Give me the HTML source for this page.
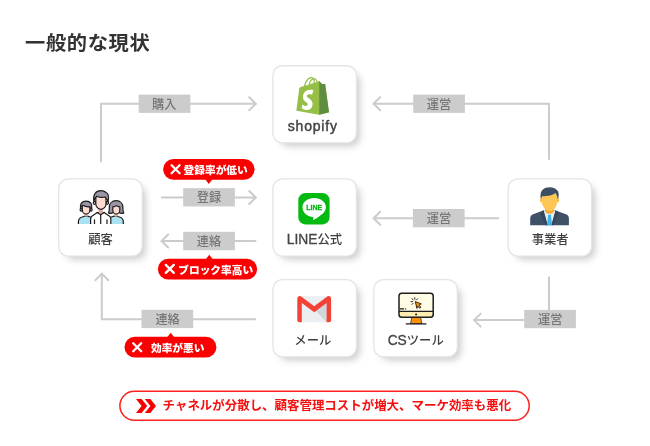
<!DOCTYPE html>
<html lang="ja">
<head>
<meta charset="utf-8">
<title>一般的な現状</title>
<style>
*{margin:0;padding:0;box-sizing:border-box}
html,body{width:650px;height:446px;background:#fff;overflow:hidden}
body{position:relative;font-family:"Liberation Sans","Noto Sans CJK JP",sans-serif;color:#444}
#stage{position:absolute;left:0;top:0;width:650px;height:446px;will-change:transform}
h1{position:absolute;left:25.2px;top:27.8px;font-size:20px;letter-spacing:.6px;line-height:30px;font-weight:700;color:#333;white-space:nowrap;transform:scale(1.014,.975);transform-origin:0 50%}
.lbl{position:absolute;width:100%;left:0;text-align:center;font-size:12.3px;line-height:16px;font-weight:500;color:#3e3e3e;white-space:nowrap}
.lbl .en{font-size:13.8px;font-weight:400;-webkit-text-stroke:.3px #444;color:#444}
.tag{position:absolute;width:52px;height:18.6px;color:#767676;font-size:12.2px;line-height:21.2px;text-align:center;font-weight:500;white-space:nowrap;overflow:hidden}
.bad{position:absolute;height:20.5px;color:#fff;font-weight:900;font-size:10.7px;line-height:22.3px;white-space:nowrap}
.bad span{position:absolute;top:0}
.bad svg{position:absolute;top:5px}
.ban{position:absolute;left:120px;top:391.3px;width:409px;height:29px}
.ban p{position:absolute;left:42.6px;top:1px;line-height:28px;font-size:12.46px;font-weight:700;color:#f51010;white-space:nowrap}
svg{position:absolute;left:0;top:0;overflow:visible}
</style>
</head>
<body>
<div id="stage">
<h1>一般的な現状</h1>

<!-- connectors -->
<svg width="650" height="446" viewBox="0 0 650 446" fill="none" stroke="#ccc" stroke-width="2" stroke-linecap="round" stroke-linejoin="round">
  <path d="M101 161.500V103.700H255.800"/><path d="M249.200 97.200l6.600 6.500-6.600 6.500"/>
  <path d="M549 159V103.700H373.600"/><path d="M380.200 97.200l-6.600 6.500 6.600 6.500"/>
  <path d="M161.800 197.500H255.800"/><path d="M249.200 191l6.600 6.500-6.600 6.500"/>
  <path d="M255.500 241H161.600"/><path d="M168.200 234.500l-6.600 6.500 6.600 6.500"/>
  <path d="M498.300 218.200H373.600"/><path d="M380.200 211.700l-6.600 6.500 6.600 6.500"/>
  <path d="M255.300 319.200H101.800V273.600"/><path d="M95.300 280.200l6.500-6.600 6.500 6.600"/>
  <path d="M549 277.300V320.100H474.100"/><path d="M480.700 313.600l-6.600 6.500 6.600 6.500"/>
</svg>

<svg width="650" height="446" viewBox="0 0 650 446">
  <rect x="138.7" y="94.6" width="51.7" height="18.3" fill="#ccc"/>
  <rect x="413.2" y="94.6" width="51.7" height="18.3" fill="#ccc"/>
  <rect x="183.2" y="188.15" width="51.7" height="18.3" fill="#ccc"/>
  <rect x="183.2" y="231.8" width="51.7" height="18.45" fill="#ccc"/>
  <rect x="412.9" y="209.0" width="51.7" height="18.3" fill="#ccc"/>
  <rect x="141.5" y="309.8" width="51.7" height="18.3" fill="#ccc"/>
  <rect x="524.2" y="309.9" width="51.7" height="18.3" fill="#ccc"/>
  <rect x="163.1" y="158.9" width="91.5" height="20.9" rx="10.45" fill="#fb0000"/>
  <rect x="157.9" y="258.8" width="99.2" height="20.7" rx="10.35" fill="#fb0000"/>
  <rect x="124.5" y="336.8" width="91.9" height="20.7" rx="10.35" fill="#fb0000"/>
</svg>
<div class="tag" style="left:138.5px;top:94.5px;width:51.5px">購入</div>
<div class="tag" style="left:413px;top:94.7px">運営</div>
<div class="tag" style="left:183px;top:188.4px">登録</div>
<div class="tag" style="left:183px;top:232.1px">連絡</div>
<div class="tag" style="left:413px;top:209.2px">運営</div>
<div class="tag" style="left:141.6px;top:310px">連絡</div>
<div class="tag" style="left:524.2px;top:309.8px">運営</div>

<!-- cards -->
<svg width="650" height="446" viewBox="0 0 650 446">
  <defs><filter id="sh" x="-40%" y="-40%" width="180%" height="180%"><feGaussianBlur stdDeviation="3.5"/></filter></defs>
  <rect x="279.40" y="72.27" width="80.55" height="74.10" rx="9.6" fill="#000" fill-opacity=".2" filter="url(#sh)"/>
  <rect x="279.40" y="185.45" width="80.55" height="74.10" rx="9.6" fill="#000" fill-opacity=".2" filter="url(#sh)"/>
  <rect x="279.40" y="286.20" width="80.55" height="74.10" rx="9.6" fill="#000" fill-opacity=".2" filter="url(#sh)"/>
  <rect x="380.30" y="286.20" width="80.55" height="74.10" rx="9.6" fill="#000" fill-opacity=".2" filter="url(#sh)"/>
  <rect x="65.16" y="185.45" width="80.55" height="74.10" rx="9.6" fill="#000" fill-opacity=".2" filter="url(#sh)"/>
  <rect x="514.65" y="185.45" width="80.55" height="74.10" rx="9.6" fill="#000" fill-opacity=".2" filter="url(#sh)"/>
  <rect x="272.90" y="65.77" width="83.55" height="77.10" rx="9.6" fill="#fff" stroke="#e4e4e4" stroke-width="1.3"/>
  <rect x="272.90" y="178.95" width="83.55" height="77.10" rx="9.6" fill="#fff" stroke="#e4e4e4" stroke-width="1.3"/>
  <rect x="272.90" y="279.70" width="83.55" height="77.10" rx="9.6" fill="#fff" stroke="#e4e4e4" stroke-width="1.3"/>
  <rect x="373.80" y="279.70" width="83.55" height="77.10" rx="9.6" fill="#fff" stroke="#e4e4e4" stroke-width="1.3"/>
  <rect x="58.66" y="178.95" width="83.55" height="77.10" rx="9.6" fill="#fff" stroke="#e4e4e4" stroke-width="1.3"/>
  <rect x="508.15" y="178.95" width="83.55" height="77.10" rx="9.6" fill="#fff" stroke="#e4e4e4" stroke-width="1.3"/>
</svg>

<div class="lbl" style="left:270.4px;width:84px;top:118px"><span class="en" style="letter-spacing:.8px;font-size:14px;margin-right:-.8px;-webkit-text-stroke-width:.45px">shopify</span></div>
<div class="lbl" style="left:272.5px;width:84px;top:231.5px"><span class="en">LINE</span>公式</div>
<div class="lbl" style="left:270.8px;width:84px;top:332.5px">メール</div>
<div class="lbl" style="left:373.7px;width:84px;top:332.5px"><span class="en">CS</span>ツール</div>
<div class="lbl" style="left:58.6px;width:84px;top:231.8px">顧客</div>
<div class="lbl" style="left:508.1px;width:84px;top:231.5px">事業者</div>


<!-- icons -->
<svg id="icons" width="650" height="446" viewBox="0 0 650 446">
  <!-- shopify bag -->
  <g transform="translate(296.6 77) scale(.298 .305)">
    <path fill="#95bf47" d="M95.900 23.900c-.1-.6-.6-1-1.100-1-.5 0-9.300-.2-9.300-.2s-7.800-7.500-8.500-8.300c-.7-.7-2.300-.5-2.800-.3 0 0-1.500.4-3.900 1.200-.4-1.300-1-2.900-1.800-4.500-2.600-5-6.500-7.700-11.100-7.700-.3 0-.6 0-1 .1-.1-.2-.3-.3-.4-.5C54 .5 51.400-.3 48.300-.2c-6 .2-12 4.500-16.800 12.200-3.400 5.400-6 12.200-6.800 17.500-6.900 2.100-11.700 3.600-11.800 3.700-3.500 1.100-3.600 1.200-4 4.500-.3 2.500-9.500 73-9.500 73l76.400 13.200 33.100-8.200c-.1-.1-12.900-91.200-13-91.800zM67.200 16.800c-1.800.5-3.800 1.200-5.900 1.800 0-3-.4-7.300-1.800-10.900 4.500.9 6.700 6 7.700 9.100zm-10 3.100c-4 1.200-8.400 2.600-12.800 3.900 1.200-4.700 3.600-9.400 6.400-12.500 1.100-1.100 2.600-2.400 4.300-3.200 1.800 3.500 2.200 8.400 2.100 11.800zM49.100 4c1.400 0 2.600.3 3.600.9-1.600.8-3.200 2.100-4.700 3.600-3.800 4.100-6.700 10.500-7.900 16.600-3.600 1.100-7.200 2.200-10.500 3.200C31.700 18.800 39.800 4.300 49.100 4z"/>
    <path fill="#5e8e3e" d="M94.800 22.900c-.5 0-9.300-.2-9.300-.2s-7.800-7.500-8.500-8.300c-.3-.3-.7-.4-1-.5V124l33.100-8.200S96 24.500 95.900 23.900c-.1-.6-.6-1-1.100-1z"/>
    <path fill="#fff" transform="translate(-4.2 1.5) scale(1.04)" d="M58 39.900l-3.800 14.400s-4.300-2-9.400-1.600c-7.500.5-7.500 5.200-7.500 6.400.4 6.400 17.300 7.800 18.300 22.900.7 11.900-6.300 20-16.400 20.600-12.200.8-18.900-6.400-18.900-6.400l2.600-11s6.700 5.100 12.100 4.700c3.500-.2 4.800-3.100 4.700-5.100-.5-8.400-14.300-7.900-15.200-21.700-.7-11.600 6.900-23.400 23.700-24.400 6.500-.5 9.800 1.200 9.800 1.200z"/>
  </g>
  <!-- LINE -->
  <rect x="298.3" y="193.1" width="31.3" height="31.3" rx="7" fill="#04b911"/>
  <path fill="#fff" d="M314.200 198.100c6.500 0 11.700 4.100 11.700 9.200 0 3.200-2 5.900-5 7.600-1.900 1.600-4.500 3.600-7 4.900-.6.300-.9 0-.8-.6l.3-2.100c-6-.3-10.900-4.400-10.900-9.800 0-5.100 5.200-9.200 11.700-9.200z"/>
  <text x="314.300" y="210.200" text-anchor="middle" font-family="Liberation Sans, sans-serif" font-weight="700" font-size="7.600" fill="#04b911" stroke="#06b918" stroke-width=".3" textLength="16" lengthAdjust="spacingAndGlyphs">LINE</text>
  <!-- Gmail -->
  <g>
    <rect x="299" y="296.200" width="30.400" height="26.100" fill="#eceff1"/>
    <path d="M314.200 309.600l12.400-9.300v22z" fill="#cfd8dc"/>
    <path fill="#f44336" d="M297.300 298.400a2.400 2.400 0 0 1 3.900-1.900l13 9.800 13-9.800a2.400 2.400 0 0 1 3.900 1.900v21.900a2 2 0 0 1-2 2h-2.500v-19.400l-12.400 9.300-12.400-9.300v19.400h-2.500a2 2 0 0 1-2-2z"/>
  </g>
  <!-- CS monitor -->
  <g>
    <path d="M411.800 317.500h8.800l1.300 6.200h-11.400z" fill="#ff8f00" stroke="#333" stroke-width=".8" stroke-linejoin="round"/>
    <rect x="399" y="293.300" width="34.200" height="24" rx="2.800" fill="#fffbe4"/>
    <path d="M399.500 311.400h33.200v3.400a2.200 2.200 0 0 1-2.200 2.200h-28.800a2.200 2.200 0 0 1-2.200-2.200z" fill="#ffecb3"/>
    <path d="M399 311.300h34.200" stroke="#1e1e1e" stroke-width="1.200"/>
    <rect x="399" y="293.300" width="34.200" height="24" rx="2.800" fill="none" stroke="#1e1e1e" stroke-width="1.500"/>
    <circle cx="416.100" cy="314.500" r="1" fill="#1e1e1e"/>
    <path d="M406.300 323.900h19.600" stroke="#1e1e1e" stroke-width="1.300" stroke-linecap="round"/>
    <path d="M399.800 308.900h4.300M405.200 308.900h1" stroke="#1e1e1e" stroke-width="1.300"/>
    <path d="M415.300 301.600l6 2.300-2.300 1.200 1.900 2.100-1.200 1-1.900-2.100-.9 2.300z" fill="#ff8f00" stroke="#1e1e1e" stroke-width=".9" stroke-linejoin="round"/>
    <path d="M414.800 297.600v1.700M412 298.600l1.100 1.300M417.600 298.700l-1.100 1.200M411 301.600h1.700M412 304.400l1.100-1.100" stroke="#1e1e1e" stroke-width=".9" stroke-linecap="round"/>
  </g>
  <!-- businessman -->
  <g>
    <path d="M530.200 225.200v-6.800c0-2 1.200-3.500 3-4.100l10.700-4h11.300l10.700 4c1.800.6 3 2.100 3 4.100v6.800z" fill="#3f5167"/>
    <path d="M543.300 210.300l4.600 14.900h3.300l4.600-14.900z" fill="#e6ebf0"/>
    <path d="M548.200 214.700h2.700l1.200 10.500h-5.100z" fill="#3cb4e7"/>
    <path d="M543.500 210l-3.200 3.300 5.400 11.900h1.700zM555.600 210l3.200 3.300-5.400 11.900h-1.700z" fill="#35465c"/>
    <path d="M545 206h9.100v5c0 .9-2 2.700-4.550 2.700s-4.550-1.800-4.550-2.700z" fill="#f4a92b"/>
    <ellipse cx="541.400" cy="200.300" rx="1.400" ry="2" fill="#f8b73c"/>
    <ellipse cx="557.700" cy="200.300" rx="1.400" ry="2" fill="#f8b73c"/>
    <path d="M541.600 194.500c0-3.500 3.300-5.500 7.950-5.500s7.950 2 7.950 5.500v5.500c0 5.800-3.700 11.300-7.950 11.300s-7.950-5.500-7.950-11.300z" fill="#fdc755"/>
    <path d="M540.700 198.600c-1.100-7.100 2.100-11.300 8.800-11.300 3.500 0 6 1 7.200 2.700 1.900.8 2.500 3.600 1.700 8.600l-.9.200c-.2-2.500-.9-4.200-2.100-5.700-2.900 2.500-7.900 3.300-13.400 3.200-.3.700-.4 1.500-.4 2.300z" fill="#3c4f65"/>
  </g>
  <!-- customers -->
  <clipPath id="cb"><rect x="70" y="185" width="62" height="39.1"/></clipPath>
  <g clip-path="url(#cb)" stroke="#1c1c1e" stroke-width="1.2" stroke-linejoin="round" stroke-linecap="round">
    <path d="M78.400 226v-4.300c0-2.500 1.500-4.100 3.800-4.700l2.700-.8h2.700l2.700.8c1.100.3 2 .8 2.700 1.500V226" fill="#a9e2f0"/>
    <path d="M123.300 226v-4.300c0-2.500-1.500-4.100-3.800-4.700l-2.700-.8h-2.700l-2.700.8c-1.100.3-2 .8-2.700 1.500V226" fill="#a9e2f0"/>
    <path d="M90.600 226v-7c0-1.800 1-3.100 2.700-3.800l4-2.700h6.800l4 2.700c1.700.7 2.700 2 2.700 3.800v7" fill="#fff"/>
    <path d="M100.700 214.600V226M94.500 219.800V226M107 219.800V226" fill="none"/>
    <g>
      <path d="M84.400 213h3.400v3.400h-3.400z" fill="#dcae9f" stroke="none"/>
      <ellipse cx="81.200" cy="209.800" rx="1.100" ry="1.300" fill="#e9c4b8"/>
      <ellipse cx="91" cy="209.800" rx="1.100" ry="1.300" fill="#e9c4b8"/>
      <path d="M82.300 205.500h7.600v4.400c0 2.300-1.700 4.100-3.800 4.100s-3.800-1.800-3.800-4.100z" fill="#fddcd0"/>
      <path d="M80.500 208.500c-1-4.600 1.500-7.400 5.600-7.400s6.600 2.800 5.600 7.400c-.3-.9-.9-1.500-1.700-1.800-2.500.3-5-.1-7.200-1.400-1.200.7-2 1.800-2.300 3.200z" fill="#9a96a3"/>
    </g>
    <g>
      <path d="M114.500 213.500h3.400v3h-3.400z" fill="#dcae9f" stroke="none"/>
      <path d="M116.100 200.700c-4.300 0-6.800 2.900-6.800 6.900 0 2.200.2 3.900-.9 5.300 1.700.7 3.500.5 4.700-.4h6c1.200.9 3 1.100 4.700.4-1.100-1.400-.9-3.100-.9-5.300 0-4-2.500-6.900-6.800-6.900z" fill="#9a96a3"/>
      <path d="M112.800 206.900c1.400-.1 2.600-.5 3.500-1.300.9.800 2.100 1.200 3.500 1.300v3c0 2.300-1.600 4.100-3.500 4.100s-3.500-1.800-3.500-4.100z" fill="#fddcd0"/>
    </g>
    <g>
      <path d="M98.500 208.800h4.500v3.700l-2.250 1.800-2.250-1.800z" fill="#dcae9f" stroke="none"/>
      <path d="M97.200 212.500l3.500 2.200 3.500-2.200" fill="none"/>
      <ellipse cx="94.500" cy="202.800" rx="1.200" ry="1.500" fill="#e9c4b8"/>
      <ellipse cx="107.300" cy="202.800" rx="1.200" ry="1.500" fill="#e9c4b8"/>
      <path d="M95.800 196.500h10.200v7.200c0 3.100-2.300 5.600-5.100 5.600s-5.100-2.500-5.100-5.600z" fill="#fddcd0"/>
      <path d="M93.900 201.400c-1.200-6.700 1.700-10.800 7.100-10.800 2.200 0 3.900.7 5 1.900 2.300 1 3.100 4.100 2.100 8.900-.4-1.200-1-2-1.900-2.500-.1-.8-.4-1.400-.9-1.900-2.900.8-5.800.5-8.500-.8-1.500 1.200-2.500 2.900-2.900 5.200z" fill="#9a96a3"/>
    </g>
  </g>
</svg>

<!-- badges -->
<div class="bad" style="left:163px;top:159px;width:92px"><span style="left:20.6px">登録率が低い</span></div>
<div class="bad" style="left:158px;top:258.9px;width:99px;height:20.9px"><span style="left:20.3px">ブロック率高い</span></div>
<div class="bad" style="left:124.8px;top:337px;width:91.6px"><span style="left:26.2px">効率が悪い</span></div>

<svg width="650" height="446" viewBox="0 0 650 446">
  <!-- badge pointers -->
  <path d="M205.6 178.5h6.4v1.3l-3.2 4.1-3.2-4.1z" fill="#fb0000"/>
  <path d="M206 260h6.600v-1.100l-3.300-4.200-3.300 4.200z" fill="#fb0000"/>
  <path d="M167.400 338h6.600v-1.100l-3.300-4.200-3.300 4.200z" fill="#fb0000"/>
  <!-- x marks -->
  <g stroke="#fff" stroke-width="2.3" stroke-linecap="round" fill="none">
    <path d="M171.600 165.200l8 8M179.600 165.200l-8 8"/>
    <path d="M165.800 264.900l8 8M173.800 264.900l-8 8"/>
    <path d="M133.200 343.200l8 8M141.200 343.200l-8 8"/>
  </g>
  <!-- banner chevrons -->
  <g fill="#f80000">
    <path d="M136 399h5.6l5.6 7-5.6 7H136l5.6-7z"/>
    <path d="M144.8 399h5.6l5.6 7-5.6 7h-5.6l5.6-7z"/>
  </g>
</svg>

<svg width="650" height="446" viewBox="0 0 650 446"><rect x="119.9" y="391.3" width="409.3" height="28.9" rx="14.45" fill="#fff" stroke="#ff2020" stroke-width="1.5"/></svg>
<div class="ban"><p>チャネルが分散し、顧客管理コストが増大、マーケ効率も悪化</p></div>
<svg width="650" height="446" viewBox="0 0 650 446">
  <g fill="#f80000">
    <path d="M136 399h5.6l5.6 7-5.6 7H136l5.6-7z"/>
    <path d="M144.8 399h5.6l5.6 7-5.6 7h-5.6l5.6-7z"/>
  </g>
</svg>
</div>
</body>
</html>
